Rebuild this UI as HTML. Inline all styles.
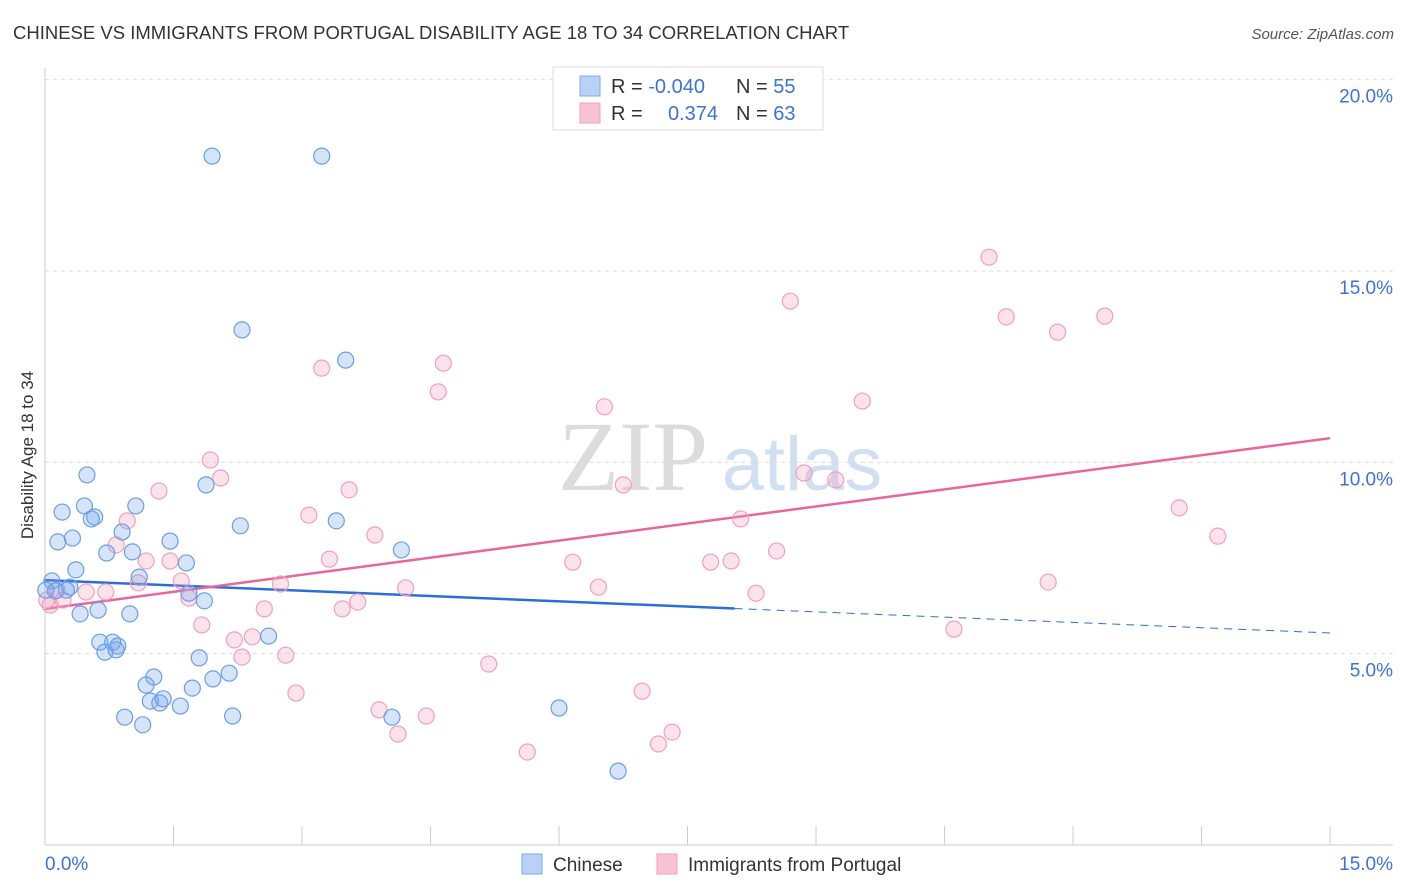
<!DOCTYPE html>
<html><head><meta charset="utf-8"><style>
body{margin:0;background:#fff;font-family:"Liberation Sans",sans-serif;}
svg{display:block}
</style></head><body>
<svg id="chart" width="1406" height="892" viewBox="0 0 1406 892">
<text x="13" y="39" font-size="18.5" fill="#333">CHINESE VS IMMIGRANTS FROM PORTUGAL DISABILITY AGE 18 TO 34 CORRELATION CHART</text>
<text x="1394" y="39" font-size="15" fill="#555" font-style="italic" text-anchor="end">Source: ZipAtlas.com</text>
<g>
<text x="633" y="490" font-size="100" fill="#dcdcdc" font-family="Liberation Serif,serif" text-anchor="middle">ZIP</text>
<text x="802" y="490" font-size="76" fill="#d0dff2" text-anchor="middle">atlas</text>
</g>
<g id="grid"></g>
<g id="axes"></g>
<g id="lines"></g>
<g id="pts"></g>
<text transform="translate(33,455) rotate(-90)" font-size="17" fill="#333" text-anchor="middle">Disability Age 18 to 34</text>
<g>
<rect x="553" y="67" width="270" height="63" fill="#fff" stroke="#ddd"/>
<rect x="580" y="76" width="20" height="20" fill="#b8d2f5" stroke="#7aaaf0"/>
<rect x="580" y="103" width="20" height="20" fill="#f8c4d4" stroke="#f0a0bc"/>
<text x="611" y="93" font-size="20" fill="#333">R = <tspan fill="#3b73d6">-0.040</tspan></text>
<text x="736" y="93" font-size="20" fill="#333">N = <tspan fill="#3b73d6">55</tspan></text>
<text x="611" y="120" font-size="20" fill="#333">R = </text>
<text x="718" y="120" font-size="20" fill="#3b73d6" text-anchor="end">0.374</text>
<text x="736" y="120" font-size="20" fill="#333">N = <tspan fill="#3b73d6">63</tspan></text>
</g>
<g>
<rect x="522" y="854" width="20" height="20" fill="#b8d2f5" stroke="#7aaaf0"/>
<text x="553" y="871" font-size="19" fill="#333">Chinese</text>
<rect x="657" y="854" width="20" height="20" fill="#f8c4d4" stroke="#f0a0bc"/>
<text x="688" y="871" font-size="19" fill="#333">Immigrants from Portugal</text>
</g>
</svg>
<script>
const yTicks=[5,10,15,20];
const yTickLabels=["5.0%","10.0%","15.0%","20.0%"];
const xTickLabels=["0.0%","15.0%"];
const chineseX=[1.95,3.23,2.30,3.51,0.49,1.88,0.46,1.06,0.20,0.58,0.54,2.28,3.40,0.90,0.32,0.15,1.46,4.16,0.72,1.02,1.65,0.36,1.10,0.08,0.29,0.12,0.25,1.68,1.86,0.62,0.41,0.99,0.64,0.79,0.85,0.70,0.83,2.61,1.80,1.27,1.18,2.15,1.96,1.72,1.23,1.34,1.38,1.58,0.93,2.19,1.14,4.05,6.00,6.69,0.01];
const chineseY=[18.0,18.0,13.46,12.67,9.67,9.41,8.86,8.86,8.70,8.57,8.52,8.34,8.47,8.18,8.02,7.92,7.94,7.71,7.63,7.66,7.37,7.19,7.00,6.90,6.74,6.64,6.66,6.58,6.38,6.14,6.04,6.04,5.30,5.30,5.20,5.04,5.10,5.46,4.89,4.39,4.18,4.49,4.34,4.10,3.76,3.71,3.82,3.63,3.34,3.37,3.14,3.34,3.58,1.93,6.66];
const portugalX=[11.02,8.70,11.22,12.37,11.82,3.23,4.65,4.59,6.53,9.54,1.93,8.86,9.23,6.75,2.05,1.33,3.55,3.08,0.96,8.12,13.24,13.69,3.85,0.83,1.18,1.46,3.32,6.16,7.77,8.01,8.54,1.59,1.09,2.75,11.71,6.46,4.21,8.30,1.68,3.65,3.47,2.56,0.71,0.48,0.14,0.21,0.06,1.83,10.61,2.21,2.42,2.30,2.81,5.18,6.97,2.93,3.90,4.45,4.12,7.32,7.16,5.63,0.02];
const portugalY=[15.36,14.21,13.80,13.82,13.40,12.46,12.59,11.84,11.45,11.60,10.06,9.72,9.54,9.41,9.59,9.25,9.28,8.62,8.47,8.52,8.81,8.07,8.10,7.84,7.42,7.42,7.47,7.39,7.39,7.42,7.68,6.90,6.85,6.82,6.87,6.74,6.72,6.58,6.45,6.35,6.17,6.17,6.61,6.61,6.66,6.40,6.27,5.75,5.64,5.36,5.44,4.91,4.96,4.73,4.02,3.97,3.53,3.37,2.90,2.95,2.64,2.43,6.40];
const chineseTrend=[6.92,5.54];
const chineseSolidEnd=8.05;
const portugalTrend=[6.17,10.63];
const X=v=>45+v*85.67, Y=v=>845-v*38.27;
const NS="http://www.w3.org/2000/svg";
function mk(t,a,p){const e=document.createElementNS(NS,t);for(const k in a)e.setAttribute(k,a[k]);p.appendChild(e);return e;}
const grid=document.getElementById('grid'),axes=document.getElementById('axes'),lines=document.getElementById('lines'),pts=document.getElementById('pts');
yTicks.forEach((v,i)=>{
 const l=mk('line',{x1:45,x2:1393,y1:Y(v),y2:Y(v),stroke:'#ddd','stroke-dasharray':'4,4'},grid);
 
 
 const t=mk('text',{x:1393,y:Y(v)+23,'font-size':19,fill:'#3b73d6','text-anchor':'end'},axes);
 t.textContent=yTickLabels[i];
 
 
});
const ya=mk('line',{x1:45,x2:45,y1:68,y2:845,stroke:'#ccc'},axes);


const xa=mk('line',{x1:45,x2:1393,y1:845,y2:845,stroke:'#ccc'},axes);


for(let i=0;i<=10;i++){const tk=mk('line',{x1:X(i*1.5),x2:X(i*1.5),y1:826,y2:845,stroke:'#ccc'},axes);
 
 }
[[0,'start',45],[1,'end',1393]].forEach(([i,a,x])=>{const t=mk('text',{x:x,y:870,'font-size':19,fill:'#3b73d6','text-anchor':a},axes);t.textContent=xTickLabels[i];
 
 });
function dot(x,y,f,s,n){const c=mk('circle',{cx:X(x),cy:Y(y),r:8,fill:f,stroke:s,'stroke-width':1.2},pts);
 
 }
portugalX.forEach((x,i)=>dot(x,portugalY[i],'rgba(244,160,190,0.3)','#f0a0bc','portugal-point'));
chineseX.forEach((x,i)=>dot(x,chineseY[i],'rgba(120,165,235,0.3)','#6a9ee8','chinese-point'));
const ty=(tr,x)=>tr[0]+(tr[1]-tr[0])*x/15;
const b1=mk('line',{x1:X(0),y1:Y(ty(chineseTrend,0)),x2:X(chineseSolidEnd),y2:Y(ty(chineseTrend,chineseSolidEnd)),stroke:'#2a6fd6','stroke-width':2.5},lines);


const b2=mk('line',{x1:X(chineseSolidEnd),y1:Y(ty(chineseTrend,chineseSolidEnd)),x2:X(15),y2:Y(ty(chineseTrend,15)),stroke:'#2a6fd6','stroke-width':1,'stroke-dasharray':'8,6'},lines);


const p1=mk('line',{x1:X(0),y1:Y(ty(portugalTrend,0)),x2:X(15),y2:Y(ty(portugalTrend,15)),stroke:'#e8679a','stroke-width':2.5},lines);


</script>
</body></html>
